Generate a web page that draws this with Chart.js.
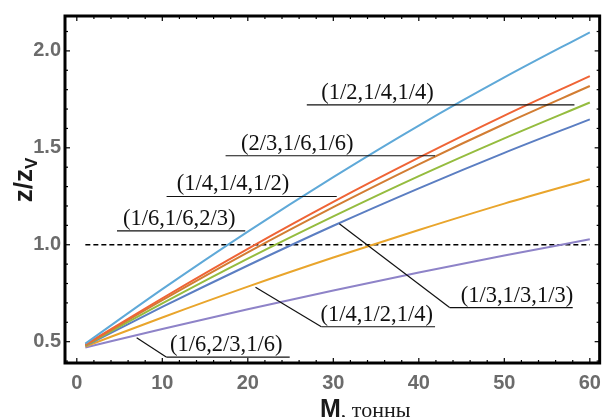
<!DOCTYPE html>
<html>
<head>
<meta charset="utf-8">
<script src="https://cdn.jsdelivr.net/npm/chart.js@4.4.1/dist/chart.umd.min.js"></script>
<style>
  html, body { margin: 0; padding: 0; background: #fff; }
</style>
</head>
<body>
<canvas id="chart" width="609" height="417"></canvas>
<script>
// mass, tonnes
const masses = [1, 10, 20, 30, 40, 50, 60];

// z/zV for each mix
const mix_1_2 = [0.490, 0.771, 1.068, 1.349, 1.615, 1.863, 2.096]; // (1/2,1/4,1/4)
const mix_2_3 = [0.485, 0.724, 0.979, 1.221, 1.449, 1.666, 1.870]; // (2/3,1/6,1/6)
const mix_1_4a = [0.482, 0.714, 0.961, 1.194, 1.415, 1.623, 1.819]; // (1/4,1/4,1/2)
const mix_1_6a = [0.480, 0.697, 0.928, 1.146, 1.354, 1.549, 1.734]; // (1/6,1/6,2/3)
const mix_1_3 = [0.478, 0.679, 0.893, 1.098, 1.291, 1.474, 1.647]; // (1/3,1/3,1/3)
const mix_1_4b = [0.475, 0.625, 0.784, 0.934, 1.076, 1.212, 1.338]; // (1/4,1/2,1/4)
const mix_1_6b = [0.470, 0.565, 0.667, 0.764, 0.857, 0.944, 1.028]; // (1/6,2/3,1/6)

const refMass = [1, 60];
const refLevel = 1.0;

const xTicks = [0, 10, 20, 30, 40, 50, 60];
const yTicks = [0.5, 1.0, 1.5, 2.0];

const colors = ["#5fa9d8", "#ef6436", "#d27d33", "#95bc3f", "#5b7ec2", "#e9a52c", "#8e83c8"];
const series = [mix_1_2, mix_2_3, mix_1_4a, mix_1_6a, mix_1_3, mix_1_4b, mix_1_6b];
const names = ["(1/2,1/4,1/4)", "(2/3,1/6,1/6)", "(1/4,1/4,1/2)", "(1/6,1/6,2/3)",
               "(1/3,1/3,1/3)", "(1/4,1/2,1/4)", "(1/6,2/3,1/6)"];

// label placement (data coords): underline from/to, text start, optional leader end
const notes = [
  { from: [26.9, 1.722], to: [58.2, 1.722], tx: 28.6 },
  { from: [17.4, 1.459], to: [41.9, 1.459], tx: 19.2 },
  { from: [10.5, 1.249], to: [30.4, 1.249], tx: 11.7 },
  { from: [4.7, 1.072], to: [19.7, 1.072], tx: 5.4 },
  { from: [43.6, 0.676], to: [58.0, 0.676], tx: 44.9, leader: [30.7, 1.108] },
  { from: [28.6, 0.577], to: [41.9, 0.577], tx: 28.5, leader: [20.9, 0.781] },
  { from: [10.5, 0.420], to: [24.9, 0.420], tx: 10.9, leader: [7.0, 0.520] },
];

const datasets = series.map((vals, i) => ({
  label: names[i],
  data: masses.map((m, j) => ({ x: m, y: vals[j] })),
  borderColor: colors[i],
  borderWidth: 2,
  pointRadius: 0,
  cubicInterpolationMode: "monotone",
  fill: false,
}));

datasets.push({
  label: "ref",
  data: refMass.map((m) => ({ x: m, y: refLevel })),
  borderColor: "#000",
  borderWidth: 1.4,
  borderDash: [5, 3],
  pointRadius: 0,
  fill: false,
});

const framePlugin = {
  id: "frame",
  afterDatasetsDraw(chart) {
    const { ctx, chartArea: a, scales: { x, y } } = chart;
    const line = (x1, y1, x2, y2) => {
      ctx.beginPath();
      ctx.moveTo(x1, y1);
      ctx.lineTo(x2, y2);
      ctx.stroke();
    };
    ctx.save();

    // labels with underlines and leaders
    ctx.strokeStyle = "#111";
    ctx.lineWidth = 1.2;
    ctx.fillStyle = "#111";
    ctx.font = "22.5px 'Liberation Serif', 'Times New Roman', serif";
    ctx.textBaseline = "alphabetic";
    ctx.textAlign = "left";
    notes.forEach((n, i) => {
      const ly = y.getPixelForValue(n.from[1]);
      const x1 = x.getPixelForValue(n.from[0]);
      const x2 = x.getPixelForValue(n.to[0]);
      line(x1, ly, x2, ly);
      if (n.leader) {
        line(x1, ly, x.getPixelForValue(n.leader[0]), y.getPixelForValue(n.leader[1]));
      }
      ctx.fillText(names[i], x.getPixelForValue(n.tx), ly - 6);
    });

    // frame and inward ticks
    ctx.strokeStyle = "#000";
    ctx.lineWidth = 1.2;
    for (let v = 0; v <= 60; v += 2) {
      const px = x.getPixelForValue(v);
      const L = v % 10 === 0 ? 5 : 3;
      line(px, a.bottom, px, a.bottom - L);
      line(px, a.top, px, a.top + L);
    }
    for (let k = 4; k <= 21; k++) {
      const py = y.getPixelForValue(k / 10);
      const L = k % 5 === 0 ? 5 : 3;
      line(a.left, py, a.left + L, py);
      line(a.right, py, a.right - L, py);
    }
    ctx.lineWidth = 3;
    ctx.strokeRect(a.left, a.top, a.right - a.left, a.bottom - a.top);

    // axis titles
    ctx.fillStyle = "#1a1a1a";
    ctx.save();
    ctx.translate(32, 180);
    ctx.rotate(-Math.PI / 2);
    const main = "z/z";
    ctx.font = "bold 17px 'Liberation Sans', Arial, sans-serif";
    const subW = ctx.measureText("V").width;
    ctx.font = "bold 26px 'Liberation Sans', Arial, sans-serif";
    const mainW = ctx.measureText(main).width;
    const startX = -(mainW + subW) / 2;
    ctx.textAlign = "left";
    ctx.fillText(main, startX, 0);
    ctx.font = "bold 17px 'Liberation Sans', Arial, sans-serif";
    ctx.fillText("V", startX + mainW, 5);
    ctx.restore();

    ctx.textAlign = "left";
    ctx.font = "bold 25px 'Liberation Sans', Arial, sans-serif";
    ctx.fillText("M", 320, 417);
    const mW = ctx.measureText("M").width;
    ctx.font = "22px 'Liberation Serif', 'Times New Roman', serif";
    ctx.fillText(", тонны", 320 + mW, 417);

    ctx.restore();
  },
};

new Chart(document.getElementById("chart").getContext("2d"), {
  type: "line",
  data: { datasets },
  options: {
    responsive: false,
    animation: false,
    devicePixelRatio: 1,
    layout: { padding: { top: 13, right: 3, left: 0, bottom: 0 } },
    plugins: { legend: { display: false }, tooltip: { enabled: false } },
    scales: {
      x: {
        type: "linear",
        min: -1.38,
        max: 61.15,
        afterBuildTicks: (s) => { s.ticks = xTicks.map((v) => ({ value: v })); },
        afterFit: (s) => { s.height = 54; },
        grid: { display: false, drawTicks: false },
        border: { display: false },
        ticks: {
          autoSkip: false,
          maxRotation: 0,
          padding: 8,
          color: "#6b6b6b",
          font: { family: "'Liberation Sans', Arial, sans-serif", size: 20, weight: "bold" },
        },
      },
      y: {
        type: "linear",
        min: 0.39,
        max: 2.18,
        afterBuildTicks: (s) => { s.ticks = yTicks.map((v) => ({ value: v })); },
        afterFit: (s) => { s.width = 65; },
        grid: { display: false, drawTicks: false },
        border: { display: false },
        ticks: {
          padding: 4,
          color: "#6b6b6b",
          font: { family: "'Liberation Sans', Arial, sans-serif", size: 20, weight: "bold" },
          callback: (v) => v.toFixed(1),
        },
      },
    },
  },
  plugins: [framePlugin],
});
</script>
</body>
</html>
